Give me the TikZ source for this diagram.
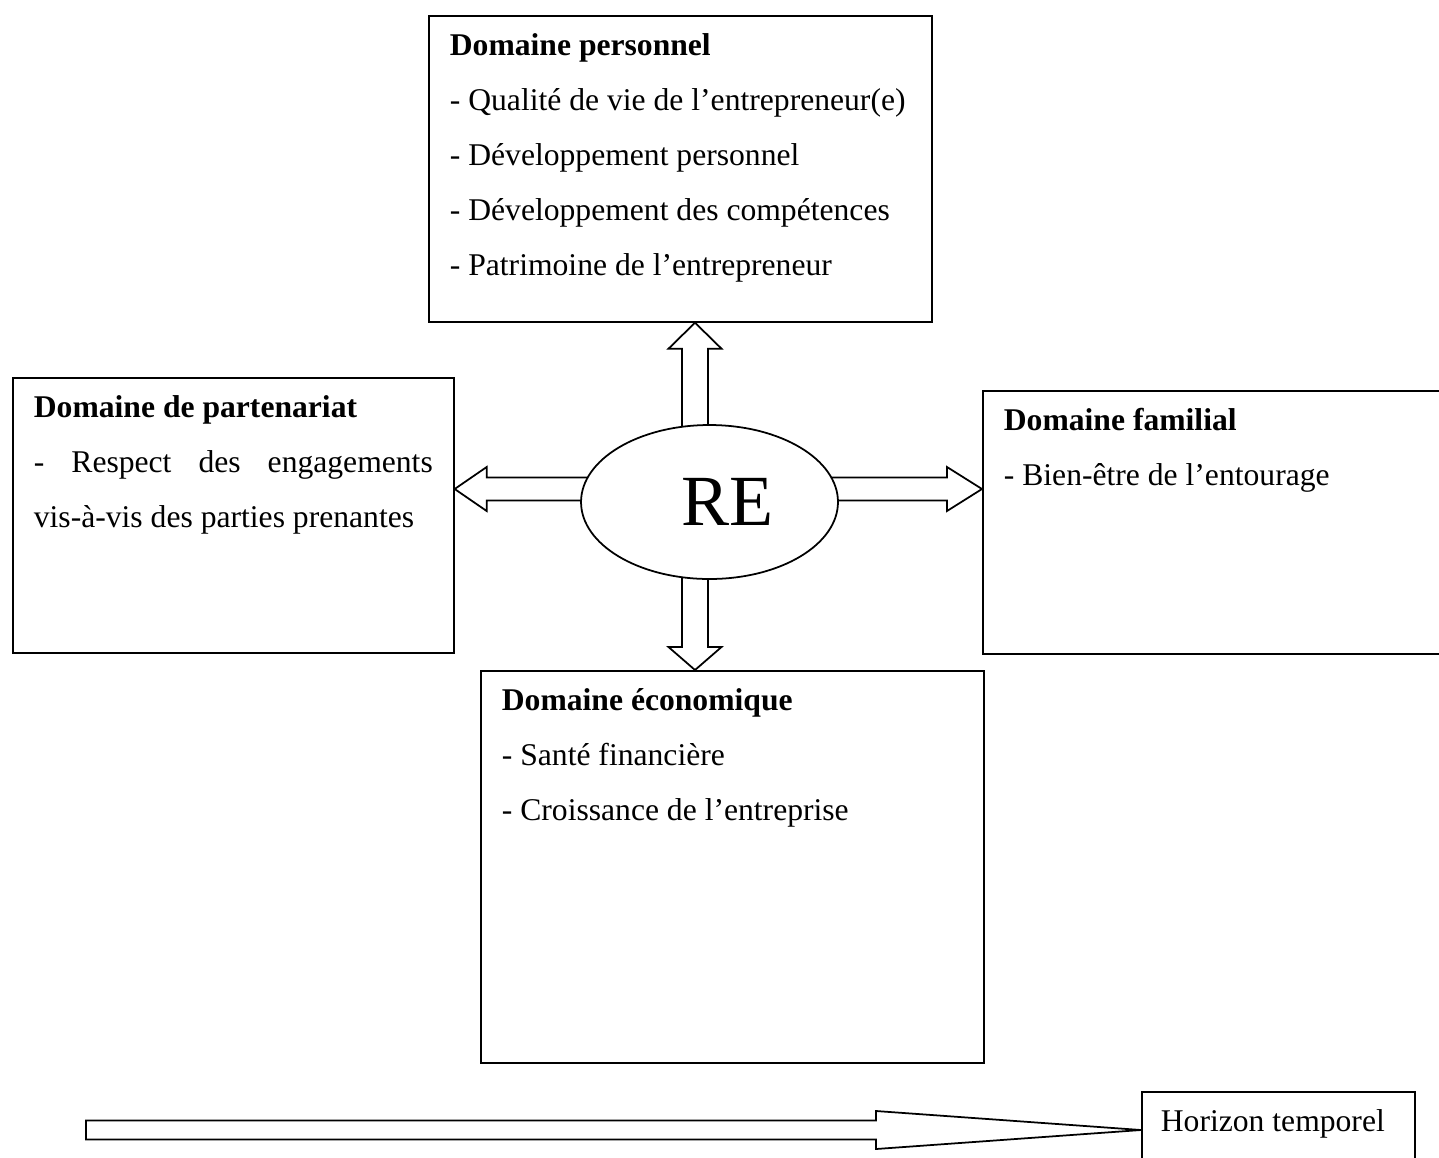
\documentclass[tikz,border=0pt]{standalone}
\usepackage{fontspec}
\setmainfont{Liberation Serif}
\usetikzlibrary{calc,shapes.geometric}
\pgfdeclarelayer{background}
\pgfsetlayers{background,main}

\tikzset{
  dombox/.style={draw, line width=1pt, anchor=north west, inner xsep=0.42cm,
    inner ysep=0pt, font=\fontsize{18pt}{1.1cm}\selectfont},
  corenode/.style={draw, ellipse, line width=1pt, fill=white, inner sep=0pt,
    minimum width=5.14cm, minimum height=3.08cm, font=\fontsize{41pt}{41pt}\selectfont},
  fatline/.style={draw, line width=1pt, fill=white, line join=miter}
}

% text of a box: width, height, lines
\newcommand{\domtext}[3]{\parbox[t][#2][t]{#1}{\rule{0pt}{0.8cm}#3}}

% block arrow: start, tip, half shaft, half head, head length
\newcommand{\fatarrow}[5]{%
  \coordinate (fa) at (#1);
  \coordinate (fb) at (#2);
  \coordinate (fh) at ($(fb)!#5!(fa)$);
  \draw[fatline] ($(fa)!#3!90:(fb)$) -- ($(fh)!#3!90:(fb)$) -- ($(fh)!#4!90:(fb)$)
    -- (fb) -- ($(fh)!#4!-90:(fb)$) -- ($(fh)!#3!-90:(fb)$) -- ($(fa)!#3!-90:(fb)$) -- cycle;}

\begin{document}
\begin{tikzpicture}[x=0.02cm, y=-0.02cm]
  \useasboundingbox (0,0) rectangle (1439,1157);
  \clip (0,0) rectangle (1439,1157);
  % Domains
  \node[dombox] (pers) at (428,15) {\domtext{9.22cm}{6.12cm}{%
    \textbf{Domaine personnel}\\
    - Qualité de vie de l’entrepreneur(e)\\
    - Développement personnel\\
    - Développement des compétences\\
    - Patrimoine de l’entrepreneur}};
  \node[dombox] (part) at (12,377) {\domtext{7.98cm}{5.5cm}{%
    \textbf{Domaine de partenariat}\\
    \makebox[\linewidth][s]{- Respect des engagements}\\
    vis-à-vis des parties prenantes}};
  \node[dombox] (fam) at (982,390) {\domtext{9.2cm}{5.26cm}{%
    \textbf{Domaine familial}\\
    - Bien-être de l’entourage}};
  \node[dombox] (eco) at (480,670) {\domtext{9.22cm}{7.84cm}{%
    \textbf{Domaine économique}\\
    - Santé financière\\
    - Croissance de l’entreprise}};
  % Centre
  \node[corenode] (re) at (709.5,502) {\hspace*{0.72cm}RE};
  % Arrows from the centre
  \coordinate (vx) at (695,0);
  \coordinate (hy) at (0,489);
  \begin{pgfonlayer}{background}
    \fatarrow{vx |- re.center}{vx |- pers.south}{0.26cm}{0.53cm}{0.52cm}
    \fatarrow{vx |- re.center}{vx |- eco.north}{0.26cm}{0.53cm}{0.46cm}
    \fatarrow{re.center |- hy}{part.east |- hy}{0.23cm}{0.44cm}{0.64cm}
    \fatarrow{re.center |- hy}{fam.west |- hy}{0.23cm}{0.44cm}{0.70cm}
  \end{pgfonlayer}
  % Time horizon
  \node[dombox, inner xsep=0.38cm] (hor) at (1141,1091) {\domtext{4.7cm}{3cm}{Horizon temporel}};
  \coordinate (tstart) at (86,1130);
  \fatarrow{tstart}{hor.west |- tstart}{0.19cm}{0.38cm}{5.3cm}
\end{tikzpicture}
\end{document}
